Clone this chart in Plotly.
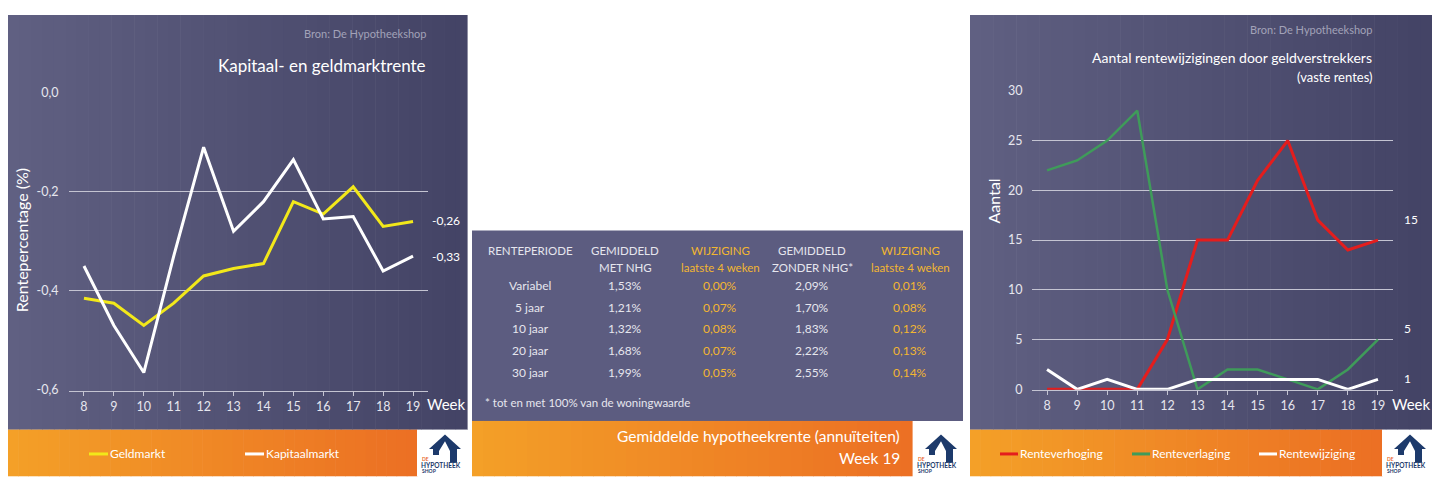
import plotly.graph_objects as go

W, H = 1440, 493
OFFX, OFFY = 8, 8  # page body margin
weeks = [8, 9, 10, 11, 12, 13, 14, 15, 16, 17, 18, 19]
geldmarkt = [-0.415, -0.425, -0.47, -0.425, -0.37, -0.355, -0.345, -0.22, -0.245, -0.19, -0.27, -0.26]
kapitaalmarkt = [-0.35, -0.47, -0.565, -0.33, -0.11, -0.28, -0.22, -0.135, -0.255, -0.25, -0.36, -0.33]
renteverhoging = [0, 0, 0, 0, 5, 15, 15, 21, 25, 17, 14, 15]
renteverlaging = [22, 23, 25, 28, 10, 0, 2, 2, 1, 0, 2, 5]
rentewijziging = [2, 0, 1, 0, 0, 1, 1, 1, 1, 1, 0, 1]
left_ticks = [0.0, -0.2, -0.4, -0.6]
left_ticklabels = ["0,0", "-0,2", "-0,4", "-0,6"]
right_ticks = [0, 5, 10, 15, 20, 25, 30]

table_header1 = ["RENTEPERIODE", "GEMIDDELD", "WIJZIGING", "GEMIDDELD", "WIJZIGING"]
table_header2 = ["", "MET NHG", "laatste 4 weken", "ZONDER NHG*", "laatste 4 weken"]
periodes = ["Variabel", "5 jaar", "10 jaar", "20 jaar", "30 jaar"]
met_nhg = ["1,53%", "1,21%", "1,32%", "1,68%", "1,99%"]
wijz_met = ["0,00%", "0,07%", "0,08%", "0,07%", "0,05%"]
zonder_nhg = ["2,09%", "1,70%", "1,83%", "2,22%", "2,55%"]
wijz_zonder = ["0,01%", "0,08%", "0,12%", "0,13%", "0,14%"]

FONT = "Lato"
TXT = "#e6e6ee"
GOLD = "#f2b631"
GRID = "#c4c4d2"
FW, FH = W - OFFX, H - OFFY

def px(x): return (x - OFFX) / FW
def py(y): return 1 - (y - OFFY) / FH

shapes, ann = [], []

def lerp(c0, c1, t):
    return "rgb(%d,%d,%d)" % tuple(int(c0[i] + (c1[i] - c0[i]) * t) for i in range(3))

def gradient(x0, x1, y0, y1, c0, c1, n=40):
    w = (x1 - x0) / n
    for i in range(n):
        shapes.append(dict(type="rect", xref="paper", yref="paper", layer="below",
                           x0=px(x0 + i * w), x1=px(x0 + (i + 1) * w + 0.6), y0=py(y1), y1=py(max(y0, OFFY)),
                           line=dict(width=0), fillcolor=lerp(c0, c1, i / (n - 1))))

def text(x, y, s, size=12, color=TXT, anchor="center", angle=0):
    ann.append(dict(xref="paper", yref="paper", x=px(x), y=py(y), text=s, showarrow=False,
                    xanchor=anchor, yanchor="middle", textangle=angle,
                    font=dict(family=FONT, size=size, color=color)))

def hline(x0, x1, y, color, width=3):
    shapes.append(dict(type="line", xref="paper", yref="paper", x0=px(x0), x1=px(x1),
                       y0=py(y), y1=py(y), line=dict(color=color, width=width)))

def logo(x0, y0):
    shapes.append(dict(type="rect", xref="paper", yref="paper", x0=px(x0), x1=px(x0 + 50),
                       y0=py(y0 + 48), y1=py(y0), fillcolor="white", line=dict(width=0)))
    pts = [(x0 + 12, y0 + 20), (x0 + 28, y0 + 5), (x0 + 44, y0 + 20), (x0 + 40, y0 + 20),
           (x0 + 40, y0 + 34), (x0 + 33, y0 + 34), (x0 + 33, y0 + 22), (x0 + 28, y0 + 12),
           (x0 + 22, y0 + 22), (x0 + 22, y0 + 26), (x0 + 16, y0 + 26), (x0 + 16, y0 + 20)]
    path = "M " + " L ".join("%f,%f" % (px(a), py(b)) for a, b in pts) + " Z"
    shapes.append(dict(type="path", xref="paper", yref="paper", path=path,
                       fillcolor="#1d3a6b", line=dict(width=0)))
    text(x0 + 3, y0 + 30, "<b>DE</b>", size=5, color="#e8692a", anchor="left")
    text(x0 + 2, y0 + 37, "<b>HYPOTHEEK</b>", size=6.5, color="#1d3a6b", anchor="left")
    text(x0 + 3, y0 + 43, "<b>SHOP</b>", size=5, color="#1d3a6b", anchor="left")

DARK0, DARK1 = (96, 96, 130), (68, 68, 102)
OR0, OR1 = (244, 160, 40), (236, 112, 36)

gradient(8, 467, 7, 435, DARK0, DARK1)
gradient(8, 417, 435, 483, OR0, OR1)
logo(417, 435)
shapes.append(dict(type="rect", xref="paper", yref="paper", layer="below", x0=px(472), x1=px(963),
                   y0=py(426), y1=py(230), fillcolor="#5c5c80", line=dict(width=0)))
gradient(472, 912, 426, 483, OR0, OR1)
logo(913, 435)
gradient(970, 1432, 7, 435, DARK0, DARK1)
gradient(970, 1382, 435, 483, OR0, OR1)
logo(1382, 435)

fig = go.Figure()
fig.add_trace(go.Scatter(x=weeks, y=geldmarkt, mode="lines", line=dict(color="#f2e81a", width=3),
                         xaxis="x", yaxis="y", showlegend=False))
fig.add_trace(go.Scatter(x=weeks, y=kapitaalmarkt, mode="lines", line=dict(color="white", width=3),
                         xaxis="x", yaxis="y", showlegend=False))
fig.add_trace(go.Scatter(x=weeks, y=renteverhoging, mode="lines", line=dict(color="#e41d1d", width=3),
                         xaxis="x2", yaxis="y2", showlegend=False))
fig.add_trace(go.Scatter(x=weeks, y=renteverlaging, mode="lines", line=dict(color="#3f9b5a", width=2.5),
                         xaxis="x2", yaxis="y2", showlegend=False))
fig.add_trace(go.Scatter(x=weeks, y=rentewijziging, mode="lines", line=dict(color="white", width=3),
                         xaxis="x2", yaxis="y2", showlegend=False))

axfont = dict(family=FONT, size=12.5, color=TXT)
xcommon = dict(range=[7.5, 19.5], tickvals=weeks, showgrid=False, zeroline=False, showline=True,
               linecolor=GRID, ticks="outside", ticklen=4, tickcolor=GRID, tickfont=axfont)

text(428, 27, "Bron: De Hypotheekshop", 11, "#a2a2b8", "right")
text(428, 60, "Kapitaal- en geldmarktrente", 17, "white", "right")
text(21, 240, "Rentepercentage (%)", 16, "white", angle=-90)
text(446, 409, "Week", 15, "white")
text(430, 220, "-0,26", 12, "white", "left")
text(430, 257, "-0,33", 12, "white", "left")
hline(89, 108, 460, "#f2e81a")
text(108, 460, "Geldmarkt", 12, "white", "left")
hline(245, 264, 460, "white")
text(264, 460, "Kapitaalmarkt", 12, "white", "left")

colx = [530, 625, 720, 812, 910]
for i, x in enumerate(colx):
    c = GOLD if i in (2, 4) else TXT
    text(x, 250, table_header1[i], 11.5, c)
    if table_header2[i]:
        text(x, 268, table_header2[i], 11.5, c)
rows_y = [287, 309, 331, 353, 376]
for r, y in enumerate(rows_y):
    vals = [periodes[r], met_nhg[r], wijz_met[r], zonder_nhg[r], wijz_zonder[r]]
    for i, x in enumerate(colx):
        text(x, y, vals[i], 12, GOLD if i in (2, 4) else TXT)
text(483, 407, "* tot en met 100% van de woningwaarde", 11.5, TXT, "left")
text(902, 441, "Gemiddelde hypotheekrente (annuïteiten)", 15.5, "white", "right")
text(902, 464, "Week 19", 15.5, "white", "right")

text(1374, 23, "Bron: De Hypotheekshop", 11, "#a2a2b8", "right")
text(1374, 52, "Aantal rentewijzigingen door geldverstrekkers", 14, "white", "right")
text(1374, 72, "(vaste rentes)", 13, "white", "right")
text(993, 200, "Aantal", 16, "white", angle=-90)
text(1411, 409, "Week", 15, "white")
text(1402, 219, "15", 12, "white", "left")
text(1402, 331, "5", 12, "white", "left")
text(1402, 382, "1", 12, "white", "left")
hline(1000, 1018, 460, "#e41d1d")
text(1018, 460, "Renteverhoging", 12, "white", "left")
hline(1132, 1150, 460, "#3f9b5a")
text(1150, 460, "Renteverlaging", 12, "white", "left")
hline(1259, 1277, 460, "white")
text(1277, 460, "Rentewijziging", 12, "white", "left")

fig.update_layout(
    width=FW, height=FH, margin=dict(l=0, r=0, t=0, b=0),
    paper_bgcolor="white", plot_bgcolor="rgba(0,0,0,0)",
    xaxis=dict(domain=[px(69), px(428)], anchor="y", **xcommon),
    yaxis=dict(domain=[py(395), py(87)], range=[-0.602, 0.002], tickvals=left_ticks,
               ticktext=left_ticklabels, gridcolor=GRID, zeroline=False, tickfont=axfont,
               ticks="outside", ticklen=7, tickcolor="rgba(0,0,0,0)"),
    xaxis2=dict(domain=[px(1032), px(1393)], anchor="y2", **xcommon),
    yaxis2=dict(domain=[py(394), py(85)], anchor="x2", range=[-0.05, 30.1], tickvals=right_ticks,
                gridcolor=GRID, zeroline=False, tickfont=axfont,
                ticks="outside", ticklen=6, tickcolor="rgba(0,0,0,0)"),
    shapes=shapes, annotations=ann,
)
fig.write_html("out.html")
